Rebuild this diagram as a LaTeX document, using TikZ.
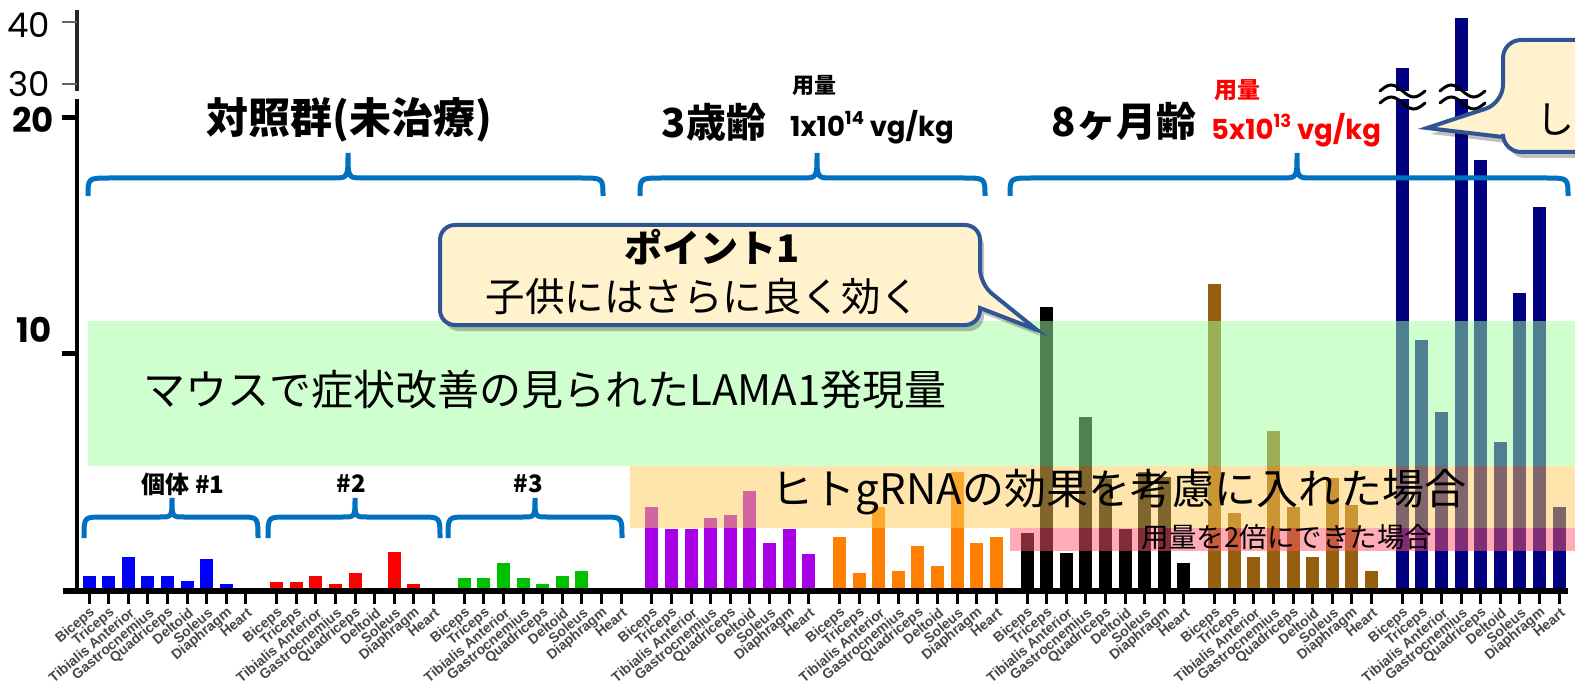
\documentclass[tikz,border=0pt]{standalone}
\usepackage{fontspec}
\setmainfont{Noto Sans CJK JP}
\newfontfamily\jp{Noto Sans CJK JP}
\newfontfamily\pop{Poppins}
\newfontfamily\labf{Liberation Sans}
\newcommand\fsz[1]{\fontsize{#1}{#1}\selectfont}
\definecolor{cblue}{RGB}{0,0,255}
\definecolor{cred}{RGB}{255,0,0}
\definecolor{cgreen}{RGB}{0,192,0}
\definecolor{cpurple}{RGB}{170,0,230}
\definecolor{corange}{RGB}{255,128,0}
\definecolor{cbrown}{RGB}{150,95,15}
\definecolor{cnavy}{RGB}{0,0,128}
\definecolor{bracec}{RGB}{0,112,192}
\definecolor{bandg}{RGB}{160,255,160}
\definecolor{bando}{RGB}{255,205,90}
\definecolor{bandp}{RGB}{255,90,110}
\definecolor{callfill}{RGB}{255,242,204}
\definecolor{callline}{RGB}{47,85,151}
\tikzset{
  bracestyle/.style={draw=bracec,line width=5pt},
  tickx/.style={line width=3pt},
  xlab/.style={rotate=40,anchor=east,font=\labf\bfseries\fsz{14},inner sep=0pt},
  callout/.style={draw=callline,line width=4pt,fill=callfill},
  wave/.style={line width=3pt,line cap=round},
  bigtitle/.style={font=\jp\bfseries\fsz{40}},
}
\newcommand\mybrace[8]{% x1 x2 xm yt yl yb r r2
  \draw[bracestyle] (#1,#6) .. controls (#1,#5) .. ({#1+#7},#5) -- ({#3-#8},#5) .. controls (#3,#5) .. (#3,#4) .. controls (#3,#5) .. ({#3+#8},#5) -- ({#2-#7},#5) .. controls (#2,#5) .. (#2,#6);}
\begin{document}
\begin{tikzpicture}[x=1pt,y=-1pt]
\useasboundingbox (0,0) rectangle (1575,687);
\clip (0,0) rectangle (1575,687);
\fill[white] (0,0) rectangle (1575,687);
% bars
\foreach \g/\col/\vals in {0/cblue/{576,576,557,576,576,581,559,584,588}, 1/cred/{582,582,576,584,573,588,552,584,588}, 2/cgreen/{578,578,563,578,584,576,571,588,588}, 3/cpurple/{507,529,529,518,515,491,543,529,554}, 4/corange/{537,573,507,571,546,566,472,543,537}, 5/black/{533,307,553,417,479,529,472,477,563}, 6/cbrown/{284,513,557,431,507,557,478,505,571}, 7/cnavy/{99,340,412,99,160,442,293,207,507}}{
  \foreach \t [count=\i from 0] in \vals {
    \fill[\col] ({89+187.6*\g+19.6*\i-6.5},588) rectangle ({89+187.6*\g+19.6*\i+6.5},\t);
  }
}
\fill[cnavy] (1395.7,91) rectangle (1408.7,68);
\fill[cnavy] (1454.5,91) rectangle (1467.5,18);
% bands
\fill[bandg,opacity=.5] (88,321) rectangle (1575,466);
\fill[bando,opacity=.5] (630,466) rectangle (1575,528);
\fill[bandp,opacity=.5] (1010,528) rectangle (1575,551);
\node[font=\jp\fsz{42}] (mouse) at (545,390) {マウスで症状改善の見られたLAMA1発現量};
\node[font=\jp\fsz{42}] (human) at (1119,492) {ヒトgRNAの効果を考慮に入れた場合};
\node[font=\jp\fsz{27.5}] (double) at (1287,537) {用量を2倍にできた場合};
% axes
\draw[line width=4pt,black!85] (77,10) -- (77,91);
\draw[line width=4.5pt] (77,99) -- (77,591);
\draw[line width=6pt] (63,591) -- (1568,591);
\draw[line width=2.5pt,black!60] (62,22) -- (77,22);
\draw[line width=2.5pt,black!60] (62,84) -- (77,84);
\draw[line width=5pt] (62,118) -- (77,118);
\draw[line width=5pt] (62,353) -- (77,353);
\node[font=\pop\fsz{34},anchor=east,inner sep=0pt] (y40) at (50,25) {40};
\node[font=\pop\fsz{34},anchor=east,inner sep=0pt] (y30) at (50,84) {30};
\node[font=\pop\bfseries\fsz{34},anchor=east,inner sep=0pt] (y20) at (54,120) {20};
\node[font=\pop\bfseries\fsz{34},anchor=east,inner sep=0pt] (y10) at (52,330) {10};
% x ticks and labels
\foreach \g in {0,...,7}{
  \foreach \i in {0,...,8}{
    \draw[tickx] ({89+187.6*\g+19.6*\i},591) -- ++(0,13);
  }
}
\begin{scope}[color=black!72]
\foreach \g in {0,...,7}{
  \foreach \m [count=\i from 0] in {Biceps,Triceps,Tibialis Anterior,Gastrocnemius,Quadriceps,Deltoid,Soleus,Diaphragm,Heart}{
    \node[xlab] (l\g-\i) at ({89+187.6*\g+19.6*\i+4},611) {\m};
  }
}
\end{scope}
% break marks
\foreach \x in {1380,1440}{
  \draw[wave] (\x,91) sin ({\x+11.25},85) cos ({\x+22.5},91) sin ({\x+33.75},97) cos ({\x+45},91);
  \draw[wave] (\x,103) sin ({\x+11.25},97) cos ({\x+22.5},103) sin ({\x+33.75},109) cos ({\x+45},103);
}
% braces
\mybrace{88}{603}{348}{153}{178}{196}{22}{15}
\mybrace{640}{985}{817}{153}{178}{196}{22}{15}
\mybrace{1010}{1568}{1297}{153}{178}{196}{22}{15}
\mybrace{84}{258}{172}{498}{517}{538}{18}{12}
\mybrace{268}{440}{355}{498}{517}{538}{18}{12}
\mybrace{448}{622}{535}{498}{517}{538}{18}{12}
% titles
\node[font=\jp\bfseries\fsz{42}] (ctrl) at (349,120) {対照群(未治療)};
\node[bigtitle] (age3) at (714,122) {3歳齢};
\node[font=\jp\bfseries\fsz{22}] (dose3a) at (814,86) {用量};
\node[font=\pop\bfseries\fsz{27.5},anchor=west,inner sep=0pt] (dose3b) at (790,127) {1x10\raisebox{0.42em}{\fsz{18}14} vg/kg};
\node[bigtitle] (age8) at (1124,122) {8ヶ月齢};
\node[font=\jp\bfseries\fsz{23},text=red] (dose8a) at (1237,90) {用量};
\node[font=\pop\bfseries\fsz{27.5},anchor=west,inner sep=0pt,text=red] (dose8b) at (1211,130) {5x10\raisebox{0.42em}{\fsz{18}13} vg/kg};
\node[font=\jp\bfseries\fsz{24}] (ind1) at (183,484) {個体 \#1};
\node[font=\jp\bfseries\fsz{24}] (ind2) at (351,484) {\#2};
\node[font=\jp\bfseries\fsz{24}] (ind3) at (528,484) {\#3};
% callout 1
\fill[black,opacity=.25,shift={(4,6)}] (440,270) [rounded corners=15]-- (440,225) -- (980,225) -- (980,284) [sharp corners]-- (1037,330) -- (980,308) [rounded corners=15]-- (980,325) -- (440,325) -- cycle;
\draw[callout] (440,270) [rounded corners=15]-- (440,225) -- (980,225) -- (980,284) [sharp corners]-- (1037,330) -- (980,308) [rounded corners=15]-- (980,325) -- (440,325) -- cycle;
\node[font=\jp\bfseries\fsz{38}] (pt1) at (712,247) {ポイント1};
\node[font=\jp\fsz{39.5}] (pt1b) at (703,297) {子供にはさらに良く効く};
% callout 2
\fill[black,opacity=.25,shift={(4,6)}] (1600,40) [rounded corners=18]-- (1503,40) -- (1503,103) [sharp corners]-- (1427,128) -- (1503,137) [rounded corners=18]-- (1503,152) -- (1600,152) -- cycle;
\draw[callout] (1600,40) [rounded corners=18]-- (1503,40) -- (1503,103) [sharp corners]-- (1427,128) -- (1503,137) [rounded corners=18]-- (1503,152) -- (1600,152) -- cycle;
\node[font=\jp\fsz{38}] (shi) at (1555,120) {し};
\end{tikzpicture}
\end{document}
